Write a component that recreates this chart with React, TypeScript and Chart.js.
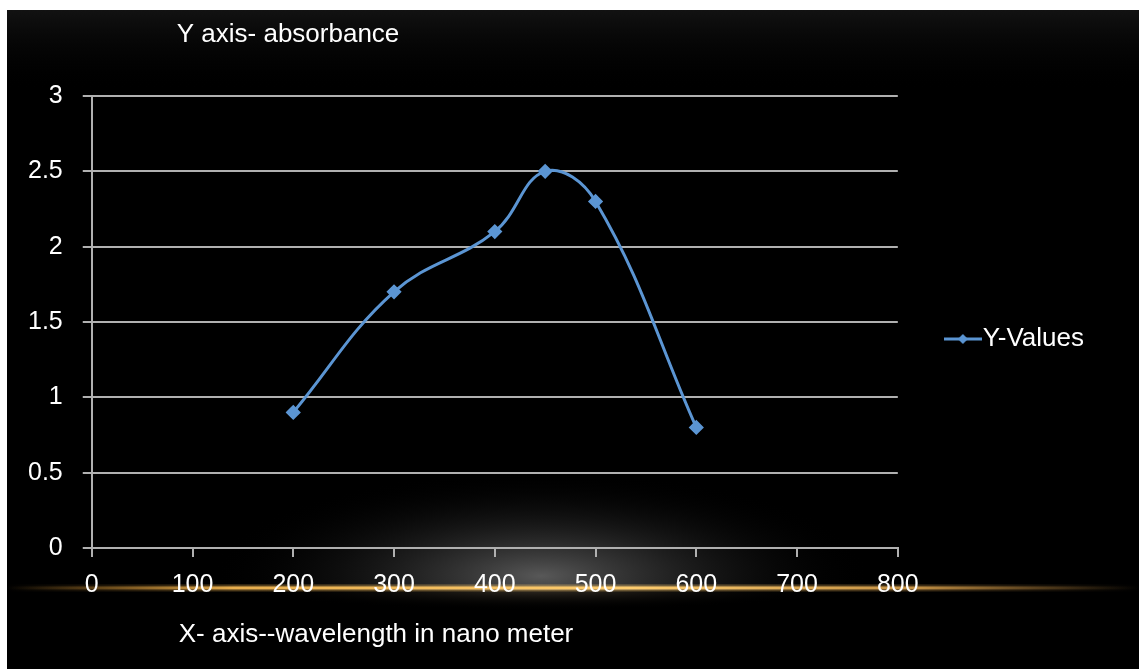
import React, { useEffect, useRef } from 'react';
import { Chart, registerables } from 'chart.js';

Chart.register(...registerables);

// ---- data ----
const wavelengths = [200, 300, 400, 450, 500, 600];
const absorbance = [0.9, 1.7, 2.1, 2.5, 2.3, 0.8];
const xTickValues = [0, 100, 200, 300, 400, 500, 600, 700, 800];
const yTickValues = [0, 0.5, 1, 1.5, 2, 2.5, 3];
const seriesName = 'Y-Values';
const yAxisTitle = 'Y axis- absorbance';
const xAxisTitle = 'X- axis--wavelength in nano meter';

// ---- styles ----
const LINE = '#5b95d3';
const GRID = '#b0b0b0';
const FONT = "'Liberation Sans', Arial, sans-serif";

function makeLegendIcon(): HTMLCanvasElement {
  const c = document.createElement('canvas');
  c.width = 38;
  c.height = 12;
  const g = c.getContext('2d')!;
  g.strokeStyle = LINE;
  g.lineWidth = 3;
  g.beginPath();
  g.moveTo(0, 6);
  g.lineTo(38, 6);
  g.stroke();
  g.fillStyle = LINE;
  g.beginPath();
  g.moveTo(19, 1);
  g.lineTo(24, 6);
  g.lineTo(19, 11);
  g.lineTo(14, 6);
  g.closePath();
  g.fill();
  return c;
}

const backdrop = {
  id: 'backdrop',
  beforeDraw(chart: any) {
    const { ctx, width, height } = chart;
    ctx.save();
    ctx.fillStyle = '#000';
    ctx.fillRect(0, 0, width, height);
    const top = ctx.createLinearGradient(0, 0, 0, 80);
    top.addColorStop(0, 'rgba(30,30,30,0.6)');
    top.addColorStop(1, 'rgba(0,0,0,0)');
    ctx.fillStyle = top;
    ctx.fillRect(0, 0, width, 80);

    const ly = height * 0.877;

    // soft glow above the golden line
    const cx = width * 0.472;
    const cy = ly - 12;
    const rx = 330;
    const ry = 105;
    ctx.save();
    ctx.beginPath();
    ctx.rect(0, 0, width, ly + 2);
    ctx.clip();
    ctx.translate(cx, cy);
    ctx.scale(1, ry / rx);
    const rg = ctx.createRadialGradient(0, 0, 0, 0, 0, rx);
    rg.addColorStop(0, 'rgba(210,210,210,0.42)');
    rg.addColorStop(0.35, 'rgba(150,150,150,0.26)');
    rg.addColorStop(0.7, 'rgba(80,80,80,0.1)');
    rg.addColorStop(1, 'rgba(0,0,0,0)');
    ctx.fillStyle = rg;
    ctx.beginPath();
    ctx.arc(0, 0, rx, 0, Math.PI * 2);
    ctx.fill();
    ctx.restore();

    // faint glow just below the line
    ctx.save();
    ctx.beginPath();
    ctx.rect(0, ly, width, 40);
    ctx.clip();
    ctx.translate(cx, ly);
    ctx.scale(1, 22 / 300);
    const rg2 = ctx.createRadialGradient(0, 0, 0, 0, 0, 300);
    rg2.addColorStop(0, 'rgba(170,150,120,0.35)');
    rg2.addColorStop(1, 'rgba(0,0,0,0)');
    ctx.fillStyle = rg2;
    ctx.beginPath();
    ctx.arc(0, 0, 300, 0, Math.PI * 2);
    ctx.fill();
    ctx.restore();

    // golden horizon line
    const lg = ctx.createLinearGradient(0, 0, width, 0);
    lg.addColorStop(0, 'rgba(200,140,50,0)');
    lg.addColorStop(0.08, 'rgba(200,140,50,0.4)');
    lg.addColorStop(0.2, 'rgba(240,180,80,0.95)');
    lg.addColorStop(0.55, 'rgba(255,205,110,1)');
    lg.addColorStop(0.8, 'rgba(230,170,80,0.8)');
    lg.addColorStop(0.93, 'rgba(180,130,60,0.3)');
    lg.addColorStop(1, 'rgba(150,110,50,0)');
    ctx.fillStyle = lg;
    ctx.globalAlpha = 0.35;
    ctx.fillRect(0, ly - 3.5, width, 7);
    ctx.globalAlpha = 1;
    ctx.fillRect(0, ly - 1.5, width, 3);
    ctx.restore();
  },
  afterDraw(chart: any) {
    const { ctx, chartArea } = chart;
    ctx.save();
    ctx.fillStyle = '#ffffff';
    ctx.font = `26px ${FONT}`;
    ctx.textAlign = 'left';
    ctx.textBaseline = 'middle';
    ctx.fillText(yAxisTitle, chartArea.left + 85, 25);
    ctx.fillText(xAxisTitle, chartArea.left + 87, 625);
    ctx.restore();
  },
};

export default function App() {
  const ref = useRef<HTMLCanvasElement | null>(null);

  useEffect(() => {
    if (!ref.current) return;
    const icon = makeLegendIcon();
    const chart = new Chart(ref.current, {
      type: 'line',
      data: {
        datasets: [
          {
            label: seriesName,
            data: wavelengths.map((w, i) => ({ x: w, y: absorbance[i] })),
            borderColor: LINE,
            backgroundColor: LINE,
            borderWidth: 3,
            tension: 0.4,
            pointStyle: 'rectRot',
            pointRadius: 5.5,
            pointBackgroundColor: LINE,
            pointBorderColor: LINE,
            fill: false,
          },
        ],
      },
      options: {
        responsive: false,
        animation: false,
        devicePixelRatio: 1,
        layout: { padding: { top: 86, left: 1, right: 45, bottom: 56 } },
        plugins: {
          title: { display: false },
          tooltip: { enabled: false },
          legend: {
            display: true,
            position: 'right',
            fullSize: false,
            title: { display: true, text: ' ', font: { family: FONT, size: 20 }, padding: 5 },
            labels: {
              color: '#ffffff',
              font: { family: FONT, size: 26 },
              usePointStyle: true,
              pointStyle: icon as any,
              pointStyleWidth: 14,
              padding: 58,
            },
          },
        },
        scales: {
          x: {
            type: 'linear',
            min: 0,
            max: 800,
            afterBuildTicks: (s: any) => {
              s.ticks = xTickValues.map((v) => ({ value: v }));
            },
            ticks: {
              color: '#ffffff',
              font: { family: FONT, size: 25 },
              padding: 13,
              maxRotation: 0,
              autoSkip: false,
              callback: (v: any) => String(v),
            },
            grid: {
              display: true,
              drawOnChartArea: false,
              drawTicks: true,
              tickLength: 9,
              color: GRID,
              lineWidth: 2,
            },
            border: { display: true, color: GRID, width: 2 },
          },
          y: {
            type: 'linear',
            min: 0,
            max: 3,
            afterBuildTicks: (s: any) => {
              s.ticks = yTickValues.map((v) => ({ value: v }));
            },
            ticks: {
              color: '#ffffff',
              font: { family: FONT, size: 25 },
              padding: 20,
              autoSkip: false,
              callback: (v: any) => String(v),
            },
            grid: {
              display: true,
              drawOnChartArea: true,
              drawTicks: true,
              tickLength: 9,
              color: GRID,
              lineWidth: 2,
            },
            border: { display: true, color: GRID, width: 2 },
          },
        },
      },
      plugins: [backdrop],
    });
    return () => chart.destroy();
  }, []);

  return (
    <div
      style={{
        position: 'fixed',
        left: 0,
        top: 0,
        width: 1139,
        height: 669,
        background: '#ffffff',
        overflow: 'hidden',
      }}
    >
      <div style={{ position: 'absolute', left: 7, top: 10, width: 1132, height: 659 }}>
        <canvas
          ref={ref}
          width={1132}
          height={659}
          style={{ display: 'block', width: 1132, height: 659 }}
        />
      </div>
    </div>
  );
}
